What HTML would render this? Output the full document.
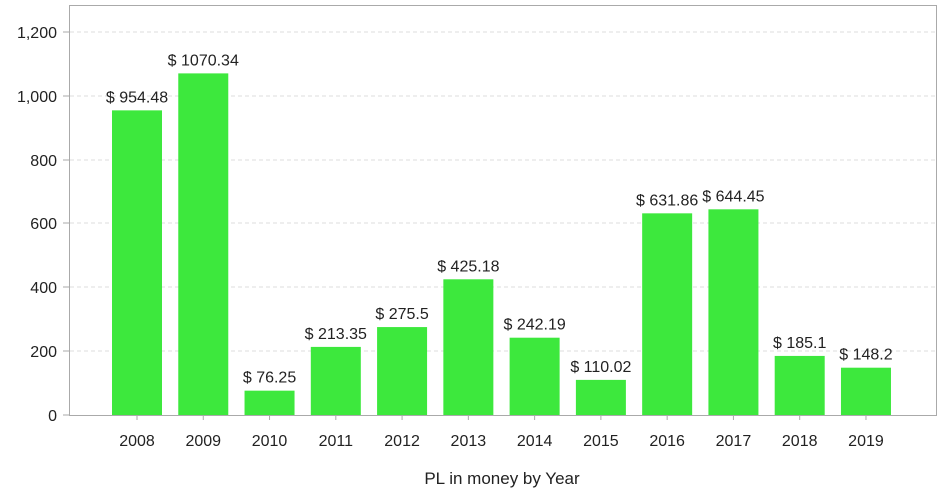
<!DOCTYPE html>
<html><head><style>body{margin:0;background:#fff}svg{display:block}text{font-family:"Liberation Sans",sans-serif;fill:#222}</style></head><body>
<svg width="941" height="493" xmlns="http://www.w3.org/2000/svg">
<rect x="69.5" y="5.5" width="867" height="410" fill="#fff" stroke="#aaa"/>
<g stroke="#ddd" stroke-dasharray="4,3">
<line x1="70" x2="936" y1="32" y2="32"/><line x1="70" x2="936" y1="96" y2="96"/><line x1="70" x2="936" y1="160" y2="160"/><line x1="70" x2="936" y1="223" y2="223"/><line x1="70" x2="936" y1="287" y2="287"/><line x1="70" x2="936" y1="351" y2="351"/>
</g>
<g font-size="16" text-anchor="end">
<text x="57" y="38">1,200</text><text x="57" y="102">1,000</text><text x="57" y="166">800</text><text x="57" y="229">600</text><text x="57" y="293">400</text><text x="57" y="357">200</text><text x="57" y="421">0</text>
</g>
<g stroke="#aaa"><line x1="63" x2="69" y1="32" y2="32"/><line x1="63" x2="69" y1="96" y2="96"/><line x1="63" x2="69" y1="160" y2="160"/><line x1="63" x2="69" y1="223" y2="223"/><line x1="63" x2="69" y1="287" y2="287"/><line x1="63" x2="69" y1="351" y2="351"/><line x1="63" x2="69" y1="415" y2="415"/></g>
<g id="bars" fill="#3de83d"></g>
<g id="lbl" font-size="16" text-anchor="middle"></g>
<text x="502" y="484" font-size="17" text-anchor="middle">PL in money by Year</text>
<script>
var v=[954.48,1070.34,76.25,213.35,275.5,425.18,242.19,110.02,631.86,644.45,185.1,148.2];
var s=["954.48","1070.34","76.25","213.35","275.5","425.18","242.19","110.02","631.86","644.45","185.1","148.2"];
var b=document.getElementById('bars'),l=document.getElementById('lbl'),ns="http://www.w3.org/2000/svg";
for(var i=0;i<12;i++){var x=112+i*66.27,h=v[i]*383/1200,y=415-h;
var r=document.createElementNS(ns,'rect');r.setAttribute('x',x);r.setAttribute('y',y);r.setAttribute('width',50);r.setAttribute('height',h);b.appendChild(r);
var t=document.createElementNS(ns,'text');t.setAttribute('x',x+25);t.setAttribute('y',y-8);t.textContent='$ '+s[i];l.appendChild(t);
var k=document.createElementNS(ns,'text');k.setAttribute('x',x+25);k.setAttribute('y',446);k.textContent=2008+i;l.appendChild(k);
var tk=document.createElementNS(ns,'line');tk.setAttribute('x1',x+25);tk.setAttribute('x2',x+25);tk.setAttribute('y1',415);tk.setAttribute('y2',420);tk.setAttribute('stroke','#aaa');l.appendChild(tk);}
</script>
</svg>
</body></html>
